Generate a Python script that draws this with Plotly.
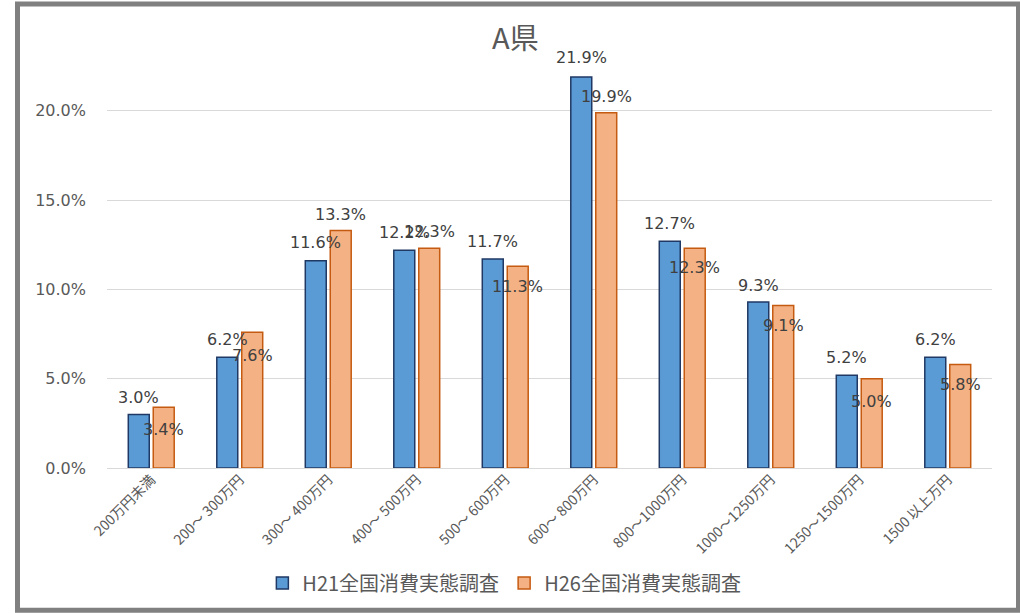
import plotly.graph_objects as go

# Income brackets (annual household income)
categories = ["200万円未満", "200～ 300万円", "300～ 400万円", "400～ 500万円", "500～ 600万円",
              "600～ 800万円", "800～1000万円", "1000～1250万円", "1250～1500万円", "1500 以上万円"]

# Share of households (%) per survey
h21_values = [3.0, 6.2, 11.6, 12.2, 11.7, 21.9, 12.7, 9.3, 5.2, 6.2]
h26_values = [3.4, 7.6, 13.3, 12.3, 11.3, 19.9, 12.3, 9.1, 5.0, 5.8]

series_names = ["H21全国消費実態調査", "H26全国消費実態調査"]
y_ticks = [0.0, 5.0, 10.0, 15.0, 20.0]

# Vertical pixel offsets of the value labels relative to each bar top (down = positive)
h21_label_dy = [-17, -18, -18, -18, -18, -19, -18, -16, -18, -18]
h26_label_dy = [22, 23, -16, -17, 20, -16, 19, 20, 23, 20]

FONT = "DejaVu Sans, Noto Sans CJK JP, sans-serif"
CJK = "Noto Sans CJK JP, DejaVu Sans, sans-serif"

fig = go.Figure()
fig.add_trace(go.Bar(
    x=categories, y=[v / 100 for v in h21_values], name=series_names[0],
    marker=dict(color="#5B9BD5", line=dict(color="#1F3864", width=1.5)),
    hoverinfo="skip",
))
fig.add_trace(go.Bar(
    x=categories, y=[v / 100 for v in h26_values], name=series_names[1],
    marker=dict(color="#F4B183", line=dict(color="#C55A11", width=1.5)),
    hoverinfo="skip",
))

annotations = []
for series, dys, xs in ((h21_values, h21_label_dy, -12.5), (h26_values, h26_label_dy, 12.5)):
    for cat, v, dy in zip(categories, series, dys):
        annotations.append(dict(
            x=cat, y=v / 100, xref="x", yref="y", text=f"{v:.1f}%", showarrow=False,
            xshift=xs, yshift=-dy, xanchor="center", yanchor="middle",
            font=dict(family=FONT, size=16, color="#404040"),
        ))

annotations.append(dict(
    text="A県", xref="paper", yref="paper", x=0.462, y=1.0 + (48 - 36) / 421,
    xanchor="center", yanchor="middle", showarrow=False,
    font=dict(family=CJK, size=29, color="#595959"),
))
fig.update_layout(annotations=annotations)

# Outer chart-area frame
fig.add_shape(type="rect", xref="paper", yref="paper",
              x0=(17.5 - 107) / 885, x1=(1018.5 - 107) / 885,
              y0=(469 - 611.5) / 421, y1=(469 - 4) / 421,
              line=dict(color="#808080", width=5), fillcolor="rgba(0,0,0,0)", layer="above")

fig.update_layout(
    width=1020, height=613,
    margin=dict(l=107, r=28, t=48, b=144),
    paper_bgcolor="white", plot_bgcolor="white",
    barmode="group", bargap=0.436, bargroupgap=0.16,
    showlegend=True,
    legend=dict(orientation="h", x=0.449, xanchor="center", y=(469 - 583) / 421, yanchor="middle",
                font=dict(family=CJK, size=20, color="#595959"), itemclick=False),
    xaxis=dict(
        tickangle=-45, tickfont=dict(family=CJK, size=14, color="#595959"),
        showgrid=False, showline=False, ticks="", zeroline=False,
    ),
    yaxis=dict(
        range=[0, 0.2352], tickvals=[t / 100 for t in y_ticks], tickformat=".1%",
        tickfont=dict(family=FONT, size=16, color="#595959"),
        showgrid=True, gridcolor="#D9D9D9", gridwidth=1,
        zeroline=True, zerolinecolor="#D9D9D9", zerolinewidth=1,
        showline=False, ticks="", ticklabelstandoff=20,
    ),
)

fig.write_html("out.html")
